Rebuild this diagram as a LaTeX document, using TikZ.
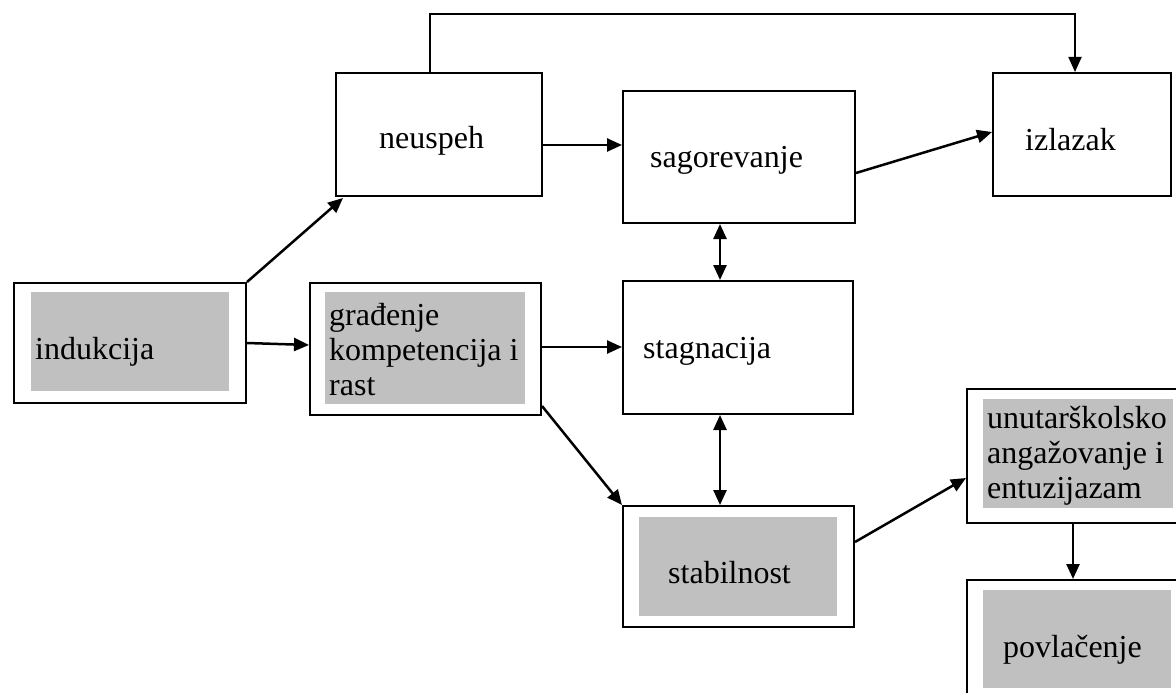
\documentclass[tikz,border=0pt]{standalone}
\usepackage{fontspec}
\setmainfont{Liberation Serif}
\usetikzlibrary{arrows.meta,calc}
\definecolor{shade}{RGB}{192,192,192}
\tikzset{
  box/.style={draw=black, line width=2pt, fill=white, rectangle, inner sep=0pt, anchor=north west},
  shadebox/.style={fill=shade, draw=none, rectangle, inner sep=0pt, anchor=north west},
  lbl/.style={anchor=base west, inner sep=0pt, font=\fontsize{32}{35}\selectfont},
  arr/.style={line width=2.5pt, -{Triangle[length=15pt,width=13pt]}},
  darr/.style={line width=2.5pt, {Triangle[length=15pt,width=13pt]}-{Triangle[length=15pt,width=13pt]}},
}
\begin{document}
\begin{tikzpicture}[x=1pt,y=-1pt]
\useasboundingbox (0,0) rectangle (1176,693);
\begin{scope}
\clip (0,0) rectangle (1176,693);
% boxes
\node[box, minimum width=206pt, minimum height=123pt] (neuspeh) at (335,72) {};
\node[box, minimum width=232pt, minimum height=132pt] (sag) at (622,90) {};
\node[box, minimum width=178pt, minimum height=123pt] (izlazak) at (992,72) {};
\node[box, minimum width=232pt, minimum height=120pt] (ind) at (13,282) {};
\node[shadebox, minimum width=198pt, minimum height=99pt] (indg) at (31,292) {};
\node[box, minimum width=231pt, minimum height=132pt] (gra) at (309,282) {};
\node[shadebox, minimum width=200pt, minimum height=112pt] (grag) at (325,292) {};
\node[box, minimum width=230pt, minimum height=133pt] (stag) at (622,280) {};
\node[box, minimum width=231pt, minimum height=121pt] (stab) at (622,505) {};
\node[shadebox, minimum width=198pt, minimum height=99pt] (stabg) at (639,517) {};
\node[box, minimum width=260pt, minimum height=134pt] (unu) at (966,388) {};
\node[shadebox, minimum width=190pt, minimum height=109pt] (unug) at (983,399) {};
\node[box, minimum width=260pt, minimum height=140pt] (pov) at (966,579) {};
\node[shadebox, minimum width=188pt, minimum height=98pt] (povg) at (983,590) {};
% texts
\node[lbl] (t1) at (379,148) {neuspeh};
\node[lbl] (t2) at (650,167) {sagorevanje};
\node[lbl] (t3) at (1025,150) {izlazak};
\node[lbl] (t4) at (35,359) {indukcija};
\node[lbl] (t5a) at (329,325) {građenje};
\node[lbl] (t5b) at (329,360) {kompetencija i};
\node[lbl] (t5c) at (329,395) {rast};
\node[lbl] (t6) at (643,358) {stagnacija};
\node[lbl] (t7) at (668,583) {stabilnost};
\node[lbl] (t8a) at (987,428) {unutarškolsko};
\node[lbl] (t8b) at (987,463) {angažovanje i};
\node[lbl] (t8c) at (987,498) {entuzijazam};
\node[lbl] (t9) at (1003,657) {povlačenje};
% connectors
\draw[line width=1.8pt, -{Triangle[length=15pt,width=13pt]}] ($(neuspeh.north west)+(95,0)$) -- ++(0,-58) -| ($(izlazak.north west)+(83,0)$);
\draw[arr] (ind.north east) -- ($(neuspeh.south west)+(8,1)$);
\draw[arr] ($(ind.north east)+(0,61)$) -- ($(gra.north west)+(0,63)$);
\draw[arr] ($(neuspeh.north east)+(0,73)$) -- ($(sag.north west)+(0,55)$);
\draw[arr] ($(sag.north east)+(0,83)$) -- ($(izlazak.north west)+(0,60)$);
\draw[arr] ($(gra.north east)+(0,65)$) -- ($(stag.north west)+(0,67)$);
\draw[arr] ($(gra.south east)+(0,-10)$) -- (stab.north west);
\draw[darr] ($(sag.south west)+(98,0)$) -- ($(stag.north west)+(98,0)$);
\draw[darr] ($(stag.south west)+(98,0)$) -- ($(stab.north west)+(98,0)$);
\draw[arr] ($(stab.north east)+(0,37)$) -- ($(unu.north west)+(0,90)$);
\draw[arr] ($(unu.south west)+(107,0)$) -- ($(pov.north west)+(107,0)$);
\end{scope}
\end{tikzpicture}
\end{document}
